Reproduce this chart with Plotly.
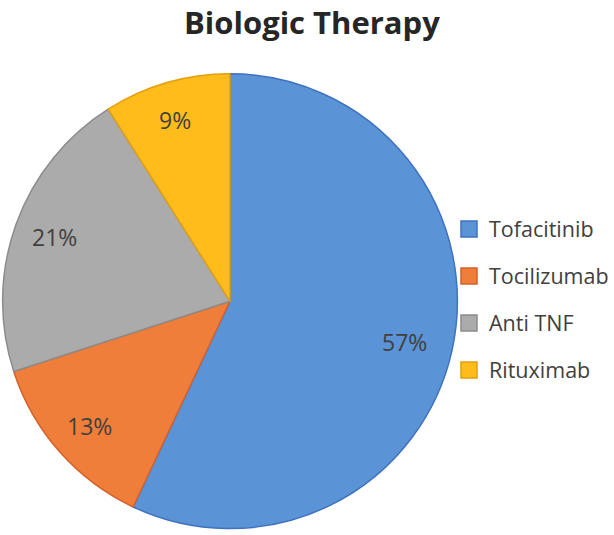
import math
import plotly.graph_objects as go

labels = ["Tofacitinib", "Tocilizumab", "Anti TNF", "Rituximab"]
values = [57, 13, 21, 9]
fill_colors = ["#5A93D6", "#EE7E3A", "#ABABAB", "#FFBC1A"]
edge_colors = ["#3F72C0", "#D5602A", "#8C8C8C", "#E0A010"]
chart_title = "Biologic Therapy"

W, H = 614, 535
dom_x = [0.0044, 0.770]
dom_y = [0.0, 0.874]

fig = go.Figure()
fig.add_trace(go.Pie(
    labels=labels, values=values, sort=False, direction="clockwise", rotation=0,
    marker=dict(colors=fill_colors, line=dict(color=edge_colors, width=1.5)),
    textinfo="none",
    domain=dict(x=dom_x, y=dom_y),
    showlegend=False, hoverinfo="label+percent",
))

# percentage labels placed along each slice's mid-angle (derived from the data)
cx = (dom_x[0] + dom_x[1]) / 2 * W - 4
cy = (dom_y[0] + dom_y[1]) / 2 * H
R = min((dom_x[1] - dom_x[0]) * W, (dom_y[1] - dom_y[0]) * H) / 2 - 4
total = sum(values)
cum = 0
for v in values:
    mid = (cum + v / 2) / total * 2 * math.pi
    cum += v
    r = 0.82 * R
    px = cx + r * math.sin(mid)
    py = cy + r * math.cos(mid)
    fig.add_annotation(
        x=px / W, y=py / H, xref="paper", yref="paper",
        text=f"{round(100 * v / total)}%", showarrow=False,
        xanchor="center", yanchor="middle",
        font=dict(family="Open Sans", size=23, color="#404040"),
    )

# chart title
fig.add_annotation(
    x=322 / W, y=1, xref="paper", yref="paper", xanchor="center", yanchor="top",
    text=f"<b>{chart_title}</b>", showarrow=False, borderpad=0,
    font=dict(family="Open Sans", size=31, color="#262626"),
)

for lab, fc, ec in zip(labels, fill_colors, edge_colors):
    fig.add_trace(go.Scatter(
        x=[None], y=[None], mode="markers", name=lab, legendgroup=lab,
        marker=dict(symbol="square", size=16, color=fc, line=dict(color=ec, width=1.5)),
    ))

fig.update_layout(
    width=W, height=H,
    margin=dict(l=0, r=0, t=0, b=0),
    paper_bgcolor="white", plot_bgcolor="white",
    xaxis=dict(visible=False), yaxis=dict(visible=False),
    legend=dict(x=0.756, xanchor="left", y=0.44, yanchor="middle",
                font=dict(family="Open Sans", size=21.5, color="#404040"),
                tracegroupgap=16, itemsizing="trace", bgcolor="rgba(0,0,0,0)"),
)

fig.write_html("out.html")
